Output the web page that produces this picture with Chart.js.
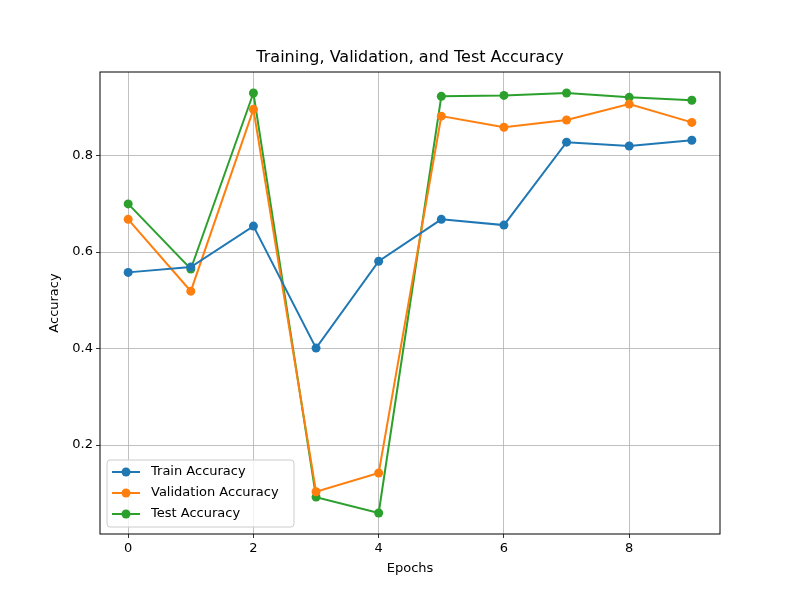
<!DOCTYPE html>
<html><head><meta charset="utf-8">
<script src="https://cdn.jsdelivr.net/npm/chart.js@4/dist/chart.umd.min.js"></script>
<style>html,body{margin:0;padding:0;background:#fff}#w{width:800px;height:600px}</style>
</head><body><div id="w"><canvas id="c"></canvas></div>
<script>
const epochs=[0,1,2,3,4,5,6,7,8,9];
const trainAcc=[0.558,0.569,0.654,0.401,0.581,0.668,0.656,0.828,0.820,0.832];
const valAcc=[0.668,0.519,0.896,0.103,0.142,0.882,0.859,0.874,0.907,0.869];
const testAcc=[0.700,0.565,0.930,0.092,0.059,0.923,0.925,0.930,0.921,0.915];
const xTicks=[0,2,4,6,8];
const yTicks=[0.2,0.4,0.6,0.8];
const names=['Train Accuracy','Validation Accuracy','Test Accuracy'];
const colors=['#1f77b4','#ff7f0e','#2ca02c'];
const F='"DejaVu Sans"';
function ds(v,i){return{label:names[i],data:epochs.map((e,k)=>({x:e,y:v[k]})),showLine:true,borderColor:colors[i],backgroundColor:colors[i],borderWidth:2,pointRadius:4.5,pointHoverRadius:4.5,pointBorderWidth:0};}
const deco={id:'deco',afterDraw(ch){const c=ch.ctx,a=ch.chartArea;c.save();
c.strokeStyle='#000';c.lineWidth=1;c.strokeRect(a.left,a.top,a.right-a.left,a.bottom-a.top);
c.fillStyle='#000';c.font='16px '+F;c.textAlign='center';c.textBaseline='bottom';c.fillText('Training, Validation, and Test Accuracy',(a.left+a.right)/2,a.top-6);
c.font='13px '+F;c.textBaseline='middle';c.fillText('Epochs',(a.left+a.right)/2,569);
c.save();c.translate(55,(a.top+a.bottom)/2);c.rotate(-Math.PI/2);c.fillText('Accuracy',0,0);c.restore();
const lx=107,ly=460,lw=187,lh=67;c.fillStyle='rgba(255,255,255,0.8)';c.strokeStyle='#ccc';c.lineWidth=1;c.beginPath();c.roundRect(lx,ly,lw,lh,3);c.fill();c.stroke();
c.textAlign='left';
names.forEach((n,i)=>{const y=ly+12+i*21;c.strokeStyle=colors[i];c.lineWidth=2;c.beginPath();c.moveTo(lx+5,y);c.lineTo(lx+33,y);c.stroke();c.fillStyle=colors[i];c.beginPath();c.arc(lx+19,y,4.5,0,Math.PI*2);c.fill();c.fillStyle='#000';c.fillText(n,lx+44,y);});
c.restore();}};
new Chart(document.getElementById('c'),{type:'scatter',data:{datasets:[ds(trainAcc,0),ds(valAcc,1),ds(testAcc,2)]},
options:{responsive:true,maintainAspectRatio:false,animation:false,layout:{padding:{top:72,right:80,left:0,bottom:0}},
plugins:{legend:{display:false},tooltip:{enabled:false}},
scales:{x:{type:'linear',min:-0.45,max:9.45,afterBuildTicks:s=>{s.ticks=xTicks.map(v=>({value:v}))},afterFit:s=>{s.height=66},
grid:{color:'#b0b0b0',lineWidth:0.8,tickLength:4,tickColor:'#000'},border:{display:false},
ticks:{color:'#000',font:{family:F,size:13},padding:3,maxRotation:0,callback:v=>String(v)}},
y:{min:0.0155,max:0.9735,afterBuildTicks:s=>{s.ticks=yTicks.map(v=>({value:v}))},afterFit:s=>{s.width=100},
grid:{color:'#b0b0b0',lineWidth:0.8,tickLength:4,tickColor:'#000'},border:{display:false},
ticks:{color:'#000',font:{family:F,size:13},padding:3,callback:v=>v.toFixed(1)}}}},plugins:[deco]});
</script></body></html>
